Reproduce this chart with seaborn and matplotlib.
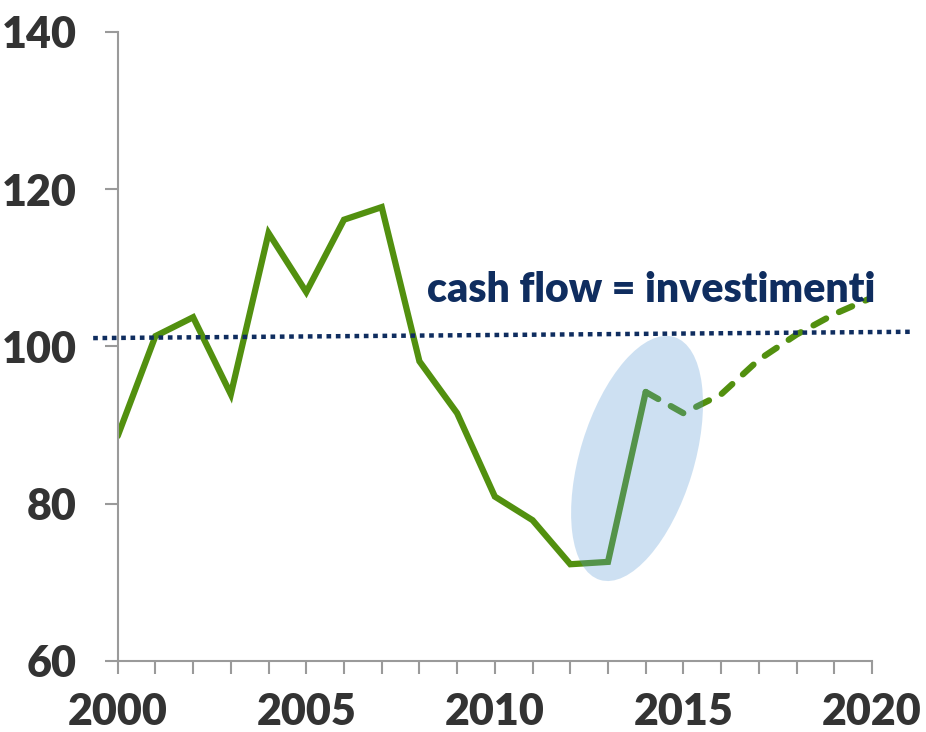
import matplotlib
matplotlib.use("Agg")
import matplotlib.pyplot as plt
import matplotlib.transforms as mtransforms
from matplotlib.patches import Ellipse
import seaborn as sns

# Data
years_actual = [2000, 2001, 2002, 2003, 2004, 2005, 2006, 2007,
                2008, 2009, 2010, 2011, 2012, 2013, 2014]
values_actual = [88.6, 101.3, 103.7, 93.9, 114.4, 106.9, 116.1, 117.7,
                 98.1, 91.5, 80.9, 77.9, 72.3, 72.6, 94.2]

years_forecast = [2014, 2015, 2016, 2017, 2018, 2019, 2020]
values_forecast = [94.2, 91.5, 93.9, 98.3, 101.5, 104.1, 106.2]

# "cash flow = investimenti" reference line
parity_years = [1999.35, 2021.0]
parity_values = [101.05, 101.85]
parity_label = "cash flow = investimenti"

x_ticks = list(range(2000, 2021))
x_tick_labels = [str(y) if y % 5 == 0 else "" for y in x_ticks]
y_ticks = [60, 80, 100, 120, 140]

# highlighted region (centre in data units)
highlight_center = (2013.77, 85.75)

green = "#52900f"
navy = "#0f2d5f"
axis_gray = "#9a9a9a"
label_gray = "#333333"

sns.set_style("ticks")
plt.rcParams["font.family"] = ["Lato", "DejaVu Sans"]

fig = plt.figure(figsize=(9.26, 7.32), dpi=100)
ax = fig.add_axes([0.1271, 0.0970, 0.8146, 0.8597])

sns.lineplot(x=years_actual, y=values_actual, ax=ax, color=green,
             linewidth=4.5, solid_joinstyle="miter", zorder=2)
sns.lineplot(x=years_forecast, y=values_forecast, ax=ax, color=green,
             linewidth=4.5, linestyle=(0, (2.3, 2.3)),
             dash_capstyle="round", zorder=2)

ax.plot(parity_years, parity_values, color=navy, linewidth=3.2,
        linestyle=(0, (1.05, 1.05)), clip_on=False, zorder=4)

ax.text(2008.2, 105.7, parity_label, fontsize=29.5, fontweight="heavy",
        color=navy, va="baseline", ha="left", zorder=5)

# tilted ellipse, sized in inches around a data-space centre
ell_trans = fig.dpi_scale_trans + mtransforms.ScaledTranslation(
    highlight_center[0], highlight_center[1], ax.transData)
ax.add_patch(Ellipse((0, 0), 1.14, 2.54, angle=-17, transform=ell_trans,
                     facecolor="#5b9bd5", edgecolor="none", alpha=0.3,
                     zorder=3, clip_on=False))

ax.set_xlim(2000, 2020)
ax.set_ylim(60, 140)
ax.set_xticks(x_ticks)
ax.set_xticklabels(x_tick_labels, fontweight="heavy")
ax.set_yticks(y_ticks)
ax.set_yticklabels([str(v) for v in y_ticks], fontweight="heavy")

ax.tick_params(axis="x", bottom=True, length=9.5, width=1.5, color=axis_gray,
               pad=13, labelsize=31, labelcolor=label_gray)
ax.tick_params(axis="y", left=True, length=9.5, width=1.5, color=axis_gray,
               pad=20, labelsize=31, labelcolor=label_gray)

sns.despine(ax=ax)
for side in ["left", "bottom"]:
    ax.spines[side].set_color(axis_gray)
    ax.spines[side].set_linewidth(1.5)

ax.set_xlabel("")
ax.set_ylabel("")

fig.savefig("out.png", dpi=100)
